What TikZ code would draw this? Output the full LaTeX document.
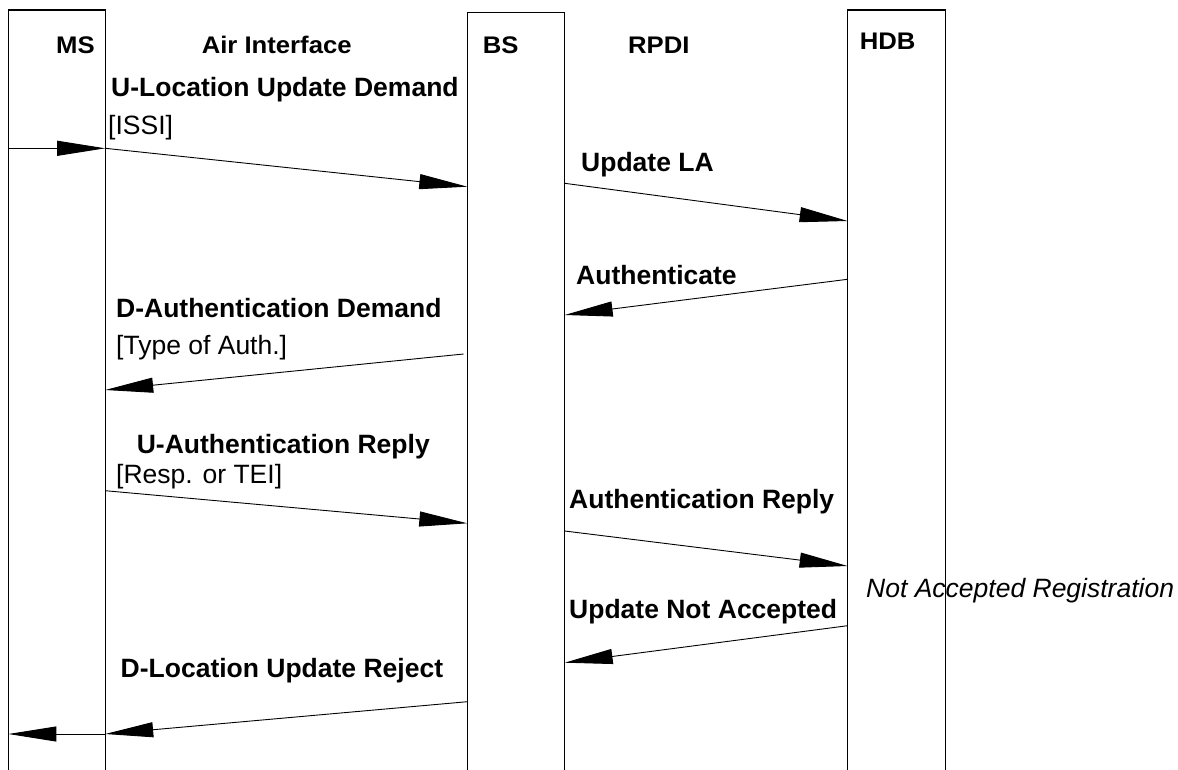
\documentclass[tikz,border=0pt]{standalone}
\usepackage{fontspec}
\setmainfont{Liberation Sans}
\newfontfamily\headfont{Liberation Sans}[FakeStretch=1.07]
\usetikzlibrary{arrows.meta}
\tikzset{
  boxline/.style={line width=1.2pt, draw=black},
  msgarrow/.style={line width=0.9pt, -{Triangle[length=48pt,width=15pt]}},
  head/.style={anchor=base west, inner sep=0pt, font=\headfont\fontsize{24}{28}\selectfont\bfseries},
  bold/.style={anchor=base west, inner sep=0pt, font=\fontsize{26.5}{30}\selectfont\bfseries},
  plain/.style={anchor=base west, inner sep=0pt, font=\fontsize{26.5}{30}\selectfont},
  note/.style={anchor=base west, inner sep=0pt, font=\fontsize{26.5}{30}\selectfont\itshape},
}
\begin{document}
\begin{tikzpicture}[x=1pt,y=-1pt]
\useasboundingbox (0,0) rectangle (1178,770);
% lifeline boxes (open at the bottom)
\draw[boxline] (8.4,770) -- (8.4,10) -- (105.2,10) -- (105.2,770);
\draw[boxline] (467.3,770) -- (467.3,12.3) -- (564.7,12.3) -- (564.7,770);
\draw[boxline] (847.6,770) -- (847.6,10) -- (945.7,10) -- (945.7,770);

% headings
\node[head] (ms) at (56,53.3) {MS};
\node[head] (air) at (201.6,53.3) {Air Interface};
\node[head] (bs) at (482.7,53.3) {BS};
\node[head] (rpdi) at (628,53.3) {RPDI};
\node[head] (hdb) at (859.6,50) {HDB};

% coordinates on the lifelines
\coordinate (a0) at (8.4,148.3);
\coordinate (a1) at (105.2,148.3);
\coordinate (a2) at (467.3,186.7);
\coordinate (b1) at (564.7,183.3);
\coordinate (b2) at (847.6,221);
\coordinate (c1) at (847.6,279.3);
\coordinate (c2) at (564.7,315);
\coordinate (d1) at (463.5,354);
\coordinate (d2) at (105.2,390);
\coordinate (e1) at (105.2,490.7);
\coordinate (e2) at (467.3,523.3);
\coordinate (f1) at (564.7,531);
\coordinate (f2) at (847.6,566);
\coordinate (g1) at (847.6,625.7);
\coordinate (g2) at (564.7,662.7);
\coordinate (h1) at (467.3,701.7);
\coordinate (h2) at (105.2,734);
\coordinate (h3) at (8.4,734);

% messages
\draw[msgarrow] (a0) -- (a1);
\draw[msgarrow] (a1) -- (a2);
\draw[msgarrow] (b1) -- (b2);
\draw[msgarrow] (c1) -- (c2);
\draw[msgarrow] (d1) -- (d2);
\draw[msgarrow] (e1) -- (e2);
\draw[msgarrow] (f1) -- (f2);
\draw[msgarrow] (g1) -- (g2);
\draw[msgarrow] (h1) -- (h2);
\draw[msgarrow] (h2) -- (h3);

% labels
\node[bold] (l1) at (111,96.7) {U-Location Update Demand};
\node[plain] (l1p) at (108,135) {[ISSI]};
\node[bold] (l2) at (581,172) {Update LA};
\node[bold] (l3) at (576,284) {Authenticate};
\node[bold] (l4) at (116,317) {D-Authentication Demand};
\node[plain] (l4p) at (116,354) {[Type of Auth.]};
\node[bold] (l5) at (136.6,453) {U-Authentication Reply};
\node[plain] (l5p) at (116,483) {[Resp. or TEI]};
\node[bold] (l6) at (569,508.3) {Authentication Reply};
\node[note] (nar) at (866,597) {Not Accepted Registration};
\node[bold] (l7) at (569,618) {Update Not Accepted};
\node[bold] (l8) at (120.5,677) {D-Location Update Reject};
\end{tikzpicture}
\end{document}
